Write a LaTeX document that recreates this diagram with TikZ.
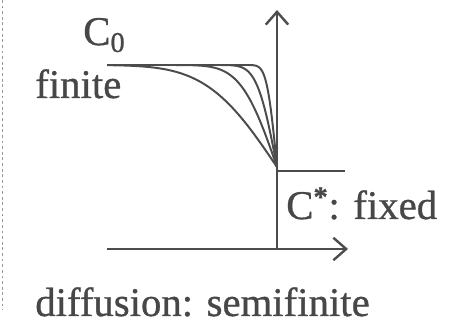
\documentclass[tikz,border=0pt]{standalone}
\usepackage{fontspec}
\setmainfont{Liberation Serif}[FakeBold=0.8]
\usetikzlibrary{arrows.meta}
\begin{document}
\begin{tikzpicture}[
    x=1cm,y=1cm,
    every node/.style={font=\fontsize{29}{32}\selectfont, text=black!72, inner sep=0pt},
    frame/.style={draw=black!70, line width=1.7pt},
    axis/.style={frame, -{Straight Barb[length=3.2mm,width=5.6mm]}},
    profile/.style={draw=black!70, line width=1.4pt},
    edge/.style={draw=black!40, line width=0.8pt, dash pattern=on 2pt off 2pt}
]
    \useasboundingbox (0,0) rectangle (11.6,8.125);

    \draw[edge] (0.06,8.125) -- (0.06,0.375);

    \coordinate (origin) at (6.925,1.9);
    \coordinate (ytip) at (6.925,7.875);
    \coordinate (xstart) at (2.675,1.9);
    \coordinate (xtip) at (8.7,1.9);
    \coordinate (knee) at (6.925,3.85);
    \coordinate (stepend) at (8.625,3.85);
    \coordinate (plateau) at (2.675,6.5);
    \coordinate (plateauend) at (6.3,6.5);

    \draw[axis] (origin) -- (ytip);
    \draw[axis] (xstart) -- (xtip);
    \draw[frame] (knee) -- (stepend);
    \draw[profile] (plateau) -- (plateauend);

    \foreach \w in {1.95,1.0,0.55,0.28} {
        \pgfmathsetmacro\dmax{min(4.25,3*\w)}
        \draw[profile] plot[domain=0:\dmax, samples=80, smooth]
            ({6.925-\x},{3.95+2.55*tanh(1.128*\x/\w+0.1009*pow(\x/\w,3))});
    }

    \node[anchor=base west] (czero) at (2.075,7.0) {C\textsubscript{0}};
    \node[anchor=base west] (finite) at (0.875,5.675) {finite};
    \node[anchor=base west] (cstar) at (7.15,2.65) {C\textsuperscript{\textbf{*}}: fixed};
    \node[anchor=base west] (caption) at (0.875,0.225) {diffusion: semifinite};
\end{tikzpicture}
\end{document}
